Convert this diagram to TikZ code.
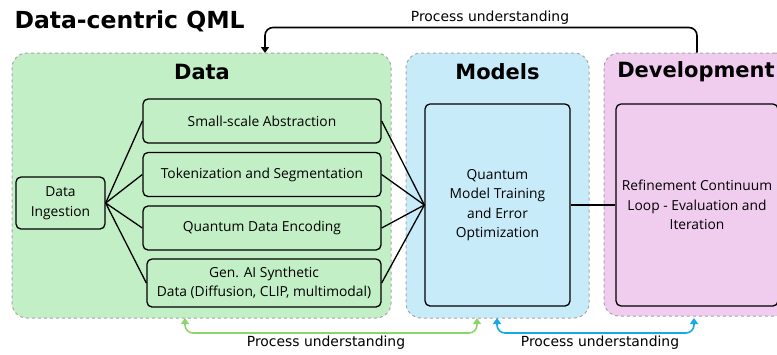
\documentclass[tikz,border=0pt]{standalone}
\usepackage{fontspec}
\setmainfont{Open Sans}
\newfontfamily\headfont{DejaVu Sans}
\usetikzlibrary{positioning,arrows.meta}
\definecolor{datagreen}{HTML}{C3EFC6}
\definecolor{modelblue}{HTML}{C8EBFA}
\definecolor{devpink}{HTML}{F0CDEE}
\definecolor{loopgreen}{HTML}{8DD46C}
\definecolor{loopblue}{HTML}{17A8E6}
\definecolor{panelgray}{HTML}{A6A6A6}

\begin{document}
\begin{tikzpicture}[
  x=1pt, y=-1pt,
  font=\fontsize{13.8}{19.5}\selectfont,
  panel/.style={draw=panelgray, dashed, line width=1pt, rounded corners=15pt,
                minimum height=265pt, inner sep=0pt},
  head/.style={font=\headfont\bfseries\fontsize{21}{24}\selectfont},
  stepbox/.style={draw, line width=1.3pt, rounded corners=5pt, align=center,
                  inner sep=2pt},
  link/.style={line width=1.3pt},
  loop/.style={line width=1.6pt, rounded corners=8pt},
  tip/.style={-{Triangle[length=6pt,width=8pt]}},
  note/.style={font=\headfont\fontsize{13.9}{16}\selectfont},
]
\useasboundingbox (0,0) rectangle (777,354);

\node[font=\headfont\bfseries\fontsize{23.5}{26}\selectfont, anchor=west] (title) at (11,21) {Data-centric QML};

\node[panel, fill=datagreen, minimum width=379pt] (datapanel) at (201.5,185.5) {};
\node[panel, fill=modelblue, minimum width=183pt] (modelpanel) at (497.5,185.5) {};
\node[panel, fill=devpink, minimum width=186pt, minimum height=263pt] (devpanel) at (697,184.5) {};

\node[head] (datahead) at (202,72) {Data};
\node[head] (modelhead) at (497.5,72) {Models};
\node[head] (devhead) at (696,72) {Development};

\node[stepbox, minimum width=89pt, minimum height=52pt] (ingest) at (60.5,203) {Data\\Ingestion};
\node[stepbox, minimum width=238pt, minimum height=44pt] (abstract) at (262,121) {Small-scale Abstraction};
\node[stepbox, minimum width=238pt, minimum height=44pt] (token) at (262,174.5) {Tokenization and Segmentation};
\node[stepbox, minimum width=238pt, minimum height=44pt] (encode) at (262,228) {Quantum Data Encoding};
\node[stepbox, minimum width=234pt, minimum height=48pt] (genai) at (264,283) {Gen. AI Synthetic\\Data (Diffusion, CLIP, multimodal)};
\node[stepbox, minimum width=145pt, minimum height=202pt] (train) at (497.5,205) {Quantum\\Model Training\\and Error\\Optimization};
\node[stepbox, minimum width=162pt, minimum height=202pt] (refine) at (697,205) {Refinement Continuum\\Loop - Evaluation and\\Iteration};

\foreach \b in {abstract,token,encode,genai} {
  \draw[link] (ingest.east) -- (\b.west);
  \draw[link] (\b.east) -- (train.west);
}
\draw[link] (train.east) -- (refine.west);

\coordinate (datatop) at (265,53);
\coordinate (greenL) at (185,318);
\coordinate (greenR) at (477,318);
\coordinate (blueL) at (497,318);
\coordinate (blueR) at (694,318);

\draw[loop, tip] (devpanel.north) -- ++(0,-25) -| (datatop);
\node[note] (toplabel) at (490,18) {Process understanding};

\draw[loop, loopgreen, {Triangle[length=6pt,width=8pt]}-{Triangle[length=6pt,width=8pt]}] (greenL) -- ++(0,15) -| (greenR);
\node[note] (greenlabel) at (326,343) {Process understanding};

\draw[loop, loopblue, {Triangle[length=6pt,width=8pt]}-{Triangle[length=6pt,width=8pt]}] (blueL) -- ++(0,15) -| (blueR);
\node[note] (bluelabel) at (600,343) {Process understanding};
\end{tikzpicture}
\end{document}
